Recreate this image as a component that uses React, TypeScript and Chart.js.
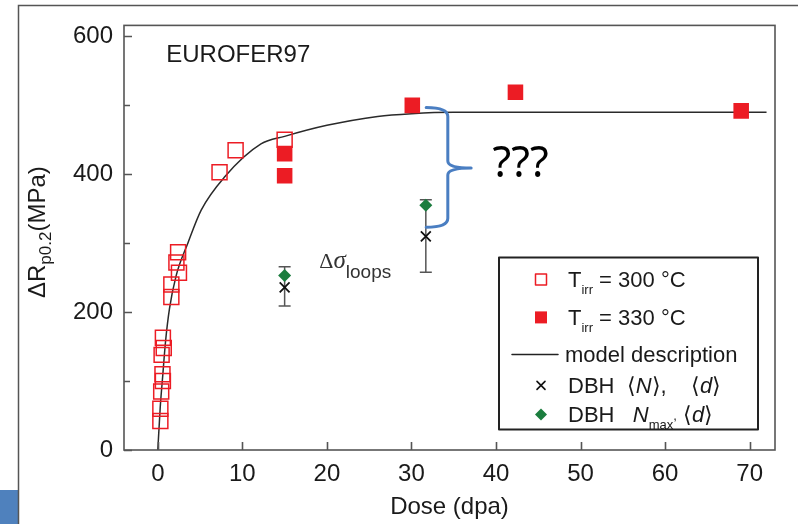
import React, { useEffect, useRef } from 'react';
import { Chart, registerables } from 'chart.js';

Chart.register(...registerables);

const SANS = "'Liberation Sans', Arial, Helvetica, sans-serif";
const SERIF = "'Liberation Serif', 'Times New Roman', serif";

// ---- axes ----
const xTickValues = [0, 10, 20, 30, 40, 50, 60, 70];
const yTickValues = [0, 200, 400, 600];
const yMinorTicks = [100, 300, 500];

// ---- T_irr = 300 °C (open squares) ----
const open300X = [0.3, 0.3, 0.4, 0.6, 0.55, 0.45, 0.7, 0.6, 1.6, 1.6, 2.5, 2.2, 2.4, 7.3, 9.2, 15.0];
const open300Y = [42, 60, 85, 100, 110, 138, 148, 163, 222, 240, 257, 272, 287, 403, 435, 450];

// ---- T_irr = 330 °C (filled squares) ----
const filled330X = [15.0, 15.0, 30.1, 42.3, 69.0];
const filled330Y = [430, 398, 500, 519, 492];

// ---- model description ----
const modelX = [0, 0.28, 0.59, 0.91, 1.38, 2.17, 3.55, 5.13, 7.89, 12.2, 15, 20, 26, 30, 35, 45, 60, 72];
const modelY = [0, 61, 109, 157, 205, 253, 300, 348, 396, 444, 455, 471, 484, 488, 490, 490, 490, 490];

// ---- DBH <N>, <d> (crosses with error bars) ----
const dbhX = [15.0, 31.7];
const dbhY = [236, 310];
const dbhLow = [209, 258];
const dbhHigh = [266, 363];

// ---- DBH Nmax, <d> (diamonds) ----
const dbhMaxX = [15.0, 31.7];
const dbhMaxY = [253, 355];

const RED = '#EC1C24';
const GREEN = '#1B7D3E';
const BLUE = '#4A7EC2';

type Seg = { t: string; size: number; italic?: boolean; dy?: number; family?: string };

function drawRich(ctx: CanvasRenderingContext2D, x: number, y: number, segs: Seg[], align: 'left' | 'center' = 'left') {
  const fonts = segs.map((s) => `${s.italic ? 'italic ' : ''}${s.size}px ${s.family ?? SANS}`);
  let total = 0;
  segs.forEach((s, i) => {
    ctx.font = fonts[i];
    total += ctx.measureText(s.t).width;
  });
  let cx = align === 'center' ? x - total / 2 : x;
  ctx.textAlign = 'left';
  ctx.textBaseline = 'alphabetic';
  segs.forEach((s, i) => {
    ctx.font = fonts[i];
    ctx.fillText(s.t, cx, y + (s.dy ?? 0));
    cx += ctx.measureText(s.t).width;
  });
  return total;
}

const overlay = {
  id: 'overlay',
  beforeDraw(chart: any) {
    const { ctx, width, height } = chart;
    ctx.save();
    ctx.fillStyle = '#ffffff';
    ctx.fillRect(0, 0, width, height);
    // slide decorations
    ctx.fillStyle = '#4F81BD';
    ctx.fillRect(0, 490, 18, height - 490);
    ctx.strokeStyle = '#555';
    ctx.lineWidth = 1.5;
    ctx.beginPath();
    ctx.moveTo(18.5, height);
    ctx.lineTo(18.5, 5.5);
    ctx.lineTo(width, 5.5);
    ctx.stroke();
    ctx.restore();
  },
  beforeDatasetsDraw(chart: any) {
    const { ctx } = chart;
    const xs = chart.scales.x;
    const ys = chart.scales.y;
    ctx.save();
    ctx.strokeStyle = '#555';
    ctx.lineWidth = 1.5;
    for (let i = 0; i < dbhX.length; i++) {
      const px = xs.getPixelForValue(dbhX[i]);
      const lo = ys.getPixelForValue(dbhLow[i]);
      const hi = ys.getPixelForValue(dbhHigh[i]);
      ctx.beginPath();
      ctx.moveTo(px, lo);
      ctx.lineTo(px, hi);
      ctx.moveTo(px - 6, lo);
      ctx.lineTo(px + 6, lo);
      ctx.moveTo(px - 6, hi);
      ctx.lineTo(px + 6, hi);
      ctx.stroke();
    }
    ctx.restore();
  },
  afterDraw(chart: any) {
    const { ctx, chartArea: ca } = chart;
    const xs = chart.scales.x;
    const ys = chart.scales.y;
    ctx.save();

    // plot frame
    ctx.strokeStyle = '#555';
    ctx.lineWidth = 1.6;
    ctx.strokeRect(ca.left, ca.top, ca.right - ca.left, ca.bottom - ca.top);

    // inward ticks
    ctx.beginPath();
    xTickValues.forEach((v) => {
      const px = Math.round(xs.getPixelForValue(v)) + 0.5;
      ctx.moveTo(px, ca.bottom);
      ctx.lineTo(px, ca.bottom - 8);
    });
    yTickValues.forEach((v) => {
      const py = Math.round(ys.getPixelForValue(v)) + 0.5;
      ctx.moveTo(ca.left, py);
      ctx.lineTo(ca.left + 8, py);
    });
    yMinorTicks.forEach((v) => {
      const py = Math.round(ys.getPixelForValue(v)) + 0.5;
      ctx.moveTo(ca.left, py);
      ctx.lineTo(ca.left + 6, py);
    });
    ctx.stroke();

    // annotations
    ctx.fillStyle = '#1a1a1a';
    drawRich(ctx, xs.getPixelForValue(1.0), ys.getPixelForValue(563), [{ t: 'EUROFER97', size: 24 }]);

    const dx = xs.getPixelForValue(19.1);
    const dyb = ys.getPixelForValue(264);
    ctx.fillStyle = '#333';
    drawRich(ctx, dx, dyb, [
      { t: 'Δ', size: 22, family: SERIF },
      { t: 'σ', size: 25, italic: true, family: SERIF },
      { t: 'loops', size: 19, dy: 10 },
    ]);

    // blue bracket
    const bxs = xs.getPixelForValue(31.74);
    const bsp = xs.getPixelForValue(34.3);
    const btip = xs.getPixelForValue(37.06);
    const byT = ys.getPixelForValue(497);
    const byM = ys.getPixelForValue(409);
    const byB = ys.getPixelForValue(323);
    ctx.strokeStyle = BLUE;
    ctx.lineWidth = 3;
    ctx.lineJoin = 'round';
    ctx.lineCap = 'round';
    ctx.beginPath();
    ctx.moveTo(bxs, byT);
    ctx.quadraticCurveTo(bsp, byT, bsp, byT + 9);
    ctx.lineTo(bsp, byM - 7);
    ctx.quadraticCurveTo(bsp, byM, btip, byM);
    ctx.moveTo(btip, byM);
    ctx.quadraticCurveTo(bsp, byM, bsp, byM + 7);
    ctx.lineTo(bsp, byB - 9);
    ctx.quadraticCurveTo(bsp, byB, bxs, byB);
    ctx.stroke();

    ctx.fillStyle = '#000';
    drawRich(ctx, xs.getPixelForValue(39.6), ys.getPixelForValue(396), [
      { t: '???', size: 43, family: "'Noto Sans', 'Open Sans', sans-serif" },
    ]);

    // legend
    const lx = ca.right - 276;
    const ly = ca.top + 232;
    const lw = 259;
    const lh = 172;
    ctx.strokeStyle = '#222';
    ctx.lineWidth = 2;
    ctx.strokeRect(lx, ly, lw, lh);
    const symX = lx + 42;
    const tX = lx + 69;
    ctx.fillStyle = '#1a1a1a';
    // row 1
    let ry = ly + 22;
    ctx.strokeStyle = RED;
    ctx.lineWidth = 1.5;
    ctx.strokeRect(symX - 5.5, ry - 5.5, 11, 11);
    ctx.fillStyle = '#1a1a1a';
    drawRich(ctx, tX, ry + 8, [
      { t: 'T', size: 22 },
      { t: 'irr', size: 13, dy: 7 },
      { t: ' = 300 °C', size: 22 },
    ]);
    // row 2
    ry = ly + 60;
    ctx.fillStyle = RED;
    ctx.fillRect(symX - 6, ry - 6, 12, 12);
    ctx.fillStyle = '#1a1a1a';
    drawRich(ctx, tX, ry + 8, [
      { t: 'T', size: 22 },
      { t: 'irr', size: 13, dy: 7 },
      { t: ' = 330 °C', size: 22 },
    ]);
    // row 3
    ry = ly + 97;
    ctx.strokeStyle = '#222';
    ctx.lineWidth = 1.5;
    ctx.beginPath();
    ctx.moveTo(lx + 13, ry);
    ctx.lineTo(lx + 59, ry);
    ctx.stroke();
    drawRich(ctx, lx + 66, ry + 8, [{ t: 'model description', size: 22 }]);
    // row 4
    ry = ly + 128;
    ctx.strokeStyle = '#111';
    ctx.lineWidth = 1.6;
    ctx.beginPath();
    ctx.moveTo(symX - 4, ry - 4);
    ctx.lineTo(symX + 4, ry + 4);
    ctx.moveTo(symX + 4, ry - 4);
    ctx.lineTo(symX - 4, ry + 4);
    ctx.stroke();
    drawRich(ctx, tX, ry + 8, [
      { t: 'DBH  ⟨', size: 22 },
      { t: 'N', size: 22, italic: true },
      { t: '⟩,    ⟨', size: 22 },
      { t: 'd', size: 22, italic: true },
      { t: '⟩', size: 22 },
    ]);
    // row 5
    ry = ly + 157;
    ctx.fillStyle = GREEN;
    ctx.beginPath();
    ctx.moveTo(symX - 6, ry);
    ctx.lineTo(symX, ry - 6);
    ctx.lineTo(symX + 6, ry);
    ctx.lineTo(symX, ry + 6);
    ctx.closePath();
    ctx.fill();
    ctx.fillStyle = '#1a1a1a';
    drawRich(ctx, tX, ry + 8, [
      { t: 'DBH   ', size: 22 },
      { t: 'N', size: 22, italic: true },
      { t: 'max', size: 13, dy: 7 },
      { t: ',', size: 13, dy: -2 },
      { t: ' ⟨', size: 22 },
      { t: 'd', size: 22, italic: true },
      { t: '⟩', size: 22 },
    ]);

    // axis titles
    ctx.fillStyle = '#1a1a1a';
    ctx.textAlign = 'center';
    ctx.textBaseline = 'middle';
    ctx.font = `24px ${SANS}`;
    ctx.fillText('Dose (dpa)', (ca.left + ca.right) / 2, 507);

    ctx.translate(45, 298);
    ctx.rotate(-Math.PI / 2);
    drawRich(ctx, 0, 0, [
      { t: 'ΔR', size: 24 },
      { t: 'p0.2', size: 17, dy: 6 },
      { t: '(MPa)', size: 24 },
    ]);

    ctx.restore();
  },
};

function pts(xs: number[], ys: number[]) {
  return xs.map((x, i) => ({ x, y: ys[i] }));
}

export default function App() {
  const ref = useRef<HTMLCanvasElement | null>(null);
  useEffect(() => {
    if (!ref.current) return;
    const chart = new Chart(ref.current, {
      type: 'scatter',
      data: {
        datasets: [
          {
            label: 'DBH <N>, <d>',
            data: pts(dbhX, dbhY),
            pointStyle: 'crossRot',
            pointRadius: 7,
            borderColor: '#111',
            backgroundColor: '#111',
            borderWidth: 1.8,
          },
          {
            label: 'DBH Nmax, <d>',
            data: pts(dbhMaxX, dbhMaxY),
            pointStyle: 'rectRot',
            pointRadius: 6.5,
            borderColor: GREEN,
            backgroundColor: GREEN,
            borderWidth: 0,
          },
          {
            label: 'T_irr = 330 °C',
            data: pts(filled330X, filled330Y),
            pointStyle: 'rect',
            pointRadius: 11,
            borderColor: RED,
            backgroundColor: RED,
            borderWidth: 0,
          },
          {
            label: 'T_irr = 300 °C',
            data: pts(open300X, open300Y),
            pointStyle: 'rect',
            pointRadius: 10.6,
            borderColor: RED,
            backgroundColor: 'rgba(0,0,0,0)',
            borderWidth: 1.5,
          },
          {
            label: 'model description',
            data: pts(modelX, modelY),
            showLine: true,
            pointRadius: 0,
            borderColor: '#2a2a2a',
            borderWidth: 1.5,
            cubicInterpolationMode: 'monotone',
            fill: false,
          } as any,
        ],
      },
      options: {
        animation: false,
        responsive: false,
        maintainAspectRatio: false,
        layout: { padding: { left: 0, top: 20, right: 23, bottom: 0 } },
        plugins: { legend: { display: false }, tooltip: { enabled: false } },
        scales: {
          x: {
            type: 'linear',
            min: -4,
            max: 73,
            afterBuildTicks: (ax: any) => {
              ax.ticks = xTickValues.map((v) => ({ value: v }));
            },
            afterFit: (s: any) => {
              s.height = 74;
            },
            grid: { display: false, drawTicks: false },
            border: { display: false },
            ticks: { padding: 10, color: '#1a1a1a', font: { size: 24, family: SANS }, maxRotation: 0, autoSkip: false },
          },
          y: {
            type: 'linear',
            min: 0,
            max: 616,
            afterBuildTicks: (ax: any) => {
              ax.ticks = yTickValues.map((v) => ({ value: v }));
            },
            afterFit: (s: any) => {
              s.width = 124;
            },
            grid: { display: false, drawTicks: false },
            border: { display: false },
            ticks: { padding: 11, color: '#1a1a1a', font: { size: 24, family: SANS }, autoSkip: false },
          },
        },
      } as any,
      plugins: [overlay],
    });
    return () => chart.destroy();
  }, []);
  return (
    <div style={{ position: 'fixed', left: 0, top: 0, width: 798, height: 524, background: '#fff' }}>
      <canvas ref={ref} width={798} height={524} style={{ display: 'block', width: 798, height: 524 }} />
    </div>
  );
}
